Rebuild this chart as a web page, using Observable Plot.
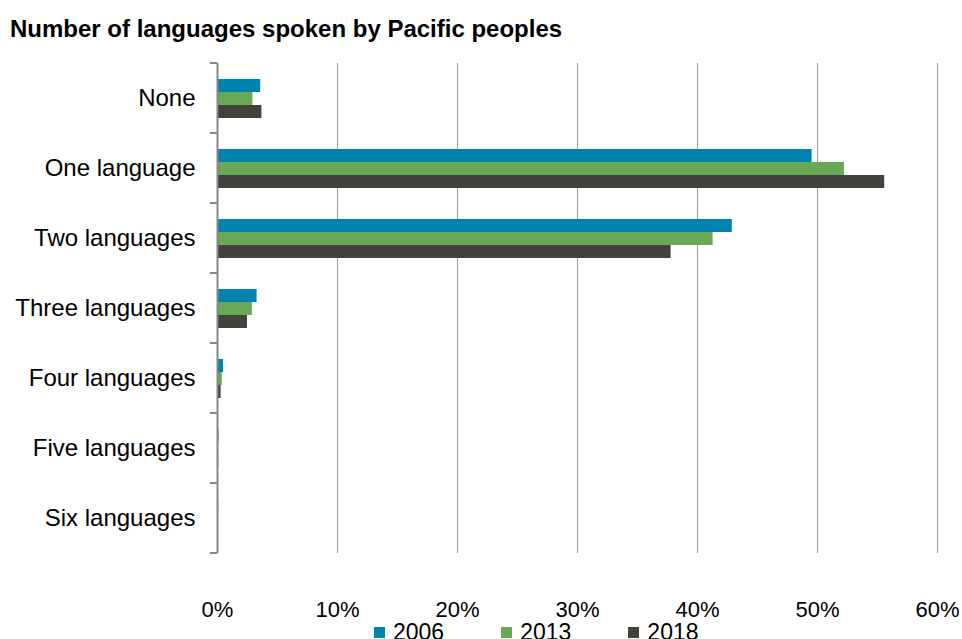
<!DOCTYPE html>
<html>
<head>
<meta charset="utf-8">
<script src="https://cdn.jsdelivr.net/npm/d3@7"></script>
<script src="https://cdn.jsdelivr.net/npm/@observablehq/plot@0.6"></script>
<style>
  html, body { margin: 0; padding: 0; background: #fff; }
  body { width: 962px; height: 639px; overflow: hidden; font-family: "Liberation Sans", Arial, sans-serif; color: #000; }
  #title { box-sizing: border-box; height: 45px; padding: 16px 0 0 10px; font-size: 24px; font-weight: bold; line-height: 26px; }
  #legend { display: flex; align-items: center; margin-left: 374px; margin-top: -3px; font-size: 23px; line-height: 24px; }
  .item { display: flex; align-items: center; margin-right: 57px; }
  .sw { width: 11px; height: 11px; margin-right: 8px; }
</style>
</head>
<body>
<div id="title">Number of languages spoken by Pacific peoples</div>
<div id="chart"></div>
<div id="legend"></div>
<script>
const categories = ["None", "One language", "Two languages", "Three languages", "Four languages", "Five languages", "Six languages"];
const years = ["2006", "2013", "2018"];
const values2006 = [3.6, 49.55, 42.9, 3.3, 0.5, 0.12, 0.1];
const values2013 = [2.95, 52.25, 41.3, 2.9, 0.4, 0.1, 0.03];
const values2018 = [3.7, 55.6, 37.8, 2.5, 0.3, 0.1, 0.03];
const xTicks = [0, 10, 20, 30, 40, 50, 60];
const colors = ["#0083ae", "#69a956", "#40423b"];

const series = [values2006, values2013, values2018];
const rows = [];
categories.forEach((c, i) => {
  years.forEach((y, j) => rows.push({category: c, year: y, value: series[j][i]}));
});

const chart = Plot.plot({
  width: 962,
  height: 578,
  marginTop: 18,
  marginBottom: 70,
  marginLeft: 217,
  marginRight: 25,
  style: {fontFamily: "Liberation Sans, Arial, sans-serif", fontSize: "22px", color: "#000", background: "#fff"},
  x: {domain: [0, 60], ticks: xTicks, tickFormat: d => d + "%", tickSize: 0, tickPadding: 48, label: null},
  y: {domain: years, paddingInner: 0, paddingOuter: 1.125, axis: null},
  fy: {domain: categories, padding: 0, label: null},
  color: {domain: years, range: colors},
  marks: [
    Plot.axisFy({anchor: "left", tickSize: 0, tickPadding: 22, fontSize: 24, label: null}),
    Plot.ruleX(xTicks.filter(d => d > 0), {stroke: "#9a9a9a", strokeWidth: 1}),
    Plot.barX(rows, {fy: "category", y: "year", x: "value", fill: "year"}),
    Plot.ruleX([0], {stroke: "#868686", strokeWidth: 2})
  ]
});
document.getElementById("chart").appendChild(chart);

// category boundary ticks on the vertical axis, placed through Plot's own scales
const fy = chart.scale("fy");
const xs = chart.scale("x");
const x0 = xs.apply(0);
const bounds = categories.map(c => fy.apply(c)).concat([fy.apply(categories[categories.length - 1]) + fy.bandwidth]);
d3.select(chart).append("g")
  .selectAll("line").data(bounds).join("line")
  .attr("x1", x0 - 7).attr("x2", x0)
  .attr("y1", d => d).attr("y2", d => d)
  .attr("stroke", "#868686").attr("stroke-width", 2);

const legend = d3.select("#legend");
years.forEach((y, i) => {
  const it = legend.append("div").attr("class", "item");
  it.append("div").attr("class", "sw").style("background", colors[i]);
  it.append("span").text(y);
});
</script>
</body>
</html>
